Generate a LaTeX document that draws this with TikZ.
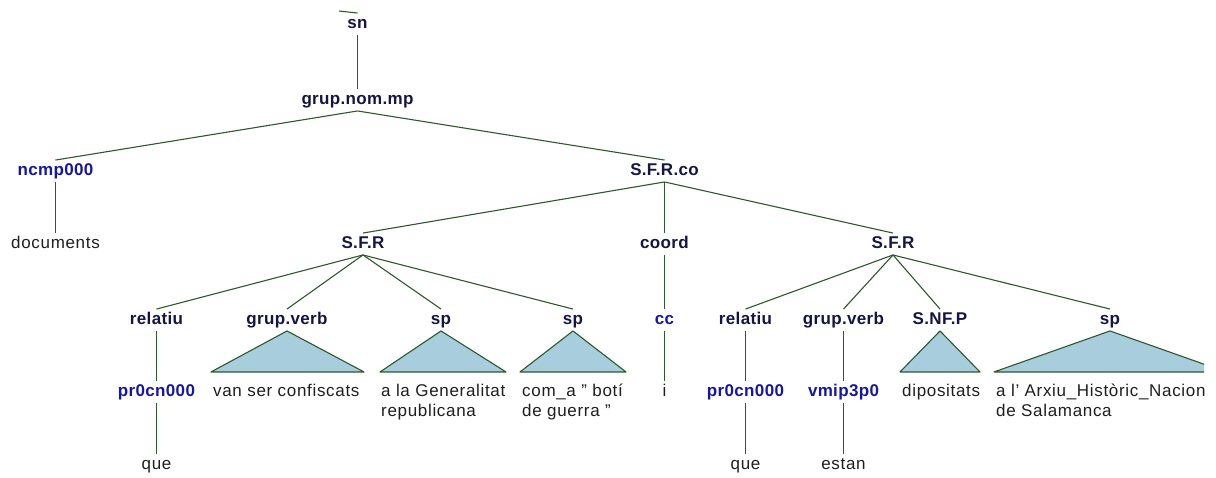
\documentclass[tikz,border=0pt]{standalone}
\usepackage{fontspec}
\setmainfont{Liberation Sans}[LetterSpace=4]
\newfontfamily\labfont{Liberation Sans}[LetterSpace=2]
\definecolor{catcol}{RGB}{20,20,70}
\definecolor{poscol}{RGB}{22,22,160}
\definecolor{wordcol}{RGB}{30,30,30}
\definecolor{linecol}{RGB}{45,88,45}
\definecolor{trifill}{RGB}{168,205,220}
\begin{document}
\begin{tikzpicture}[x=1pt,y=-1pt,
  lab/.style={inner xsep=1pt, inner ysep=3pt, text height=12pt, text depth=3.5pt},
  cat/.style={lab, font=\fontsize{17}{20}\labfont\bfseries, text=catcol},
  postag/.style={lab, font=\fontsize{17}{20}\labfont\bfseries, text=poscol},
  word/.style={lab, font=\fontsize{17}{20}\selectfont, text=wordcol},
  leaf/.style={anchor=north west, inner sep=0pt, align=left, font=\fontsize{17}{20}\selectfont, text=wordcol},
  conn/.style={draw=linecol, line width=1.1pt},
  tri/.style={draw=linecol, fill=trifill, line width=1.1pt, line join=round}]
\useasboundingbox (0,0) rectangle (1216,477);
\clip (0,0) rectangle (1204,477);
% level nodes
\node[cat] (sn) at (357.5,24) {sn};
\node[cat] (gnm) at (357.5,100) {grup.nom.mp};
\node[postag] (ncmp) at (55.5,171) {ncmp000};
\node[cat] (sfrco) at (664.5,171) {S.F.R.co};
\node[word] (doc) at (55.5,244) {documents};
\node[cat] (sfr1) at (363,244) {S.F.R};
\node[cat] (coord) at (664.5,244) {coord};
\node[cat] (sfr2) at (893,244) {S.F.R};
\node[cat] (rel1) at (156.5,320) {relatiu};
\node[cat] (gv1) at (287,320) {grup.verb};
\node[cat] (sp1) at (441,320) {sp};
\node[cat] (sp2) at (573,320) {sp};
\node[postag] (cc) at (664.5,320) {cc};
\node[cat] (rel2) at (745.5,320) {relatiu};
\node[cat] (gv2) at (843.5,320) {grup.verb};
\node[cat] (snfp) at (940,320) {S.NF.P};
\node[cat] (sp3) at (1110,320) {sp};
\node[postag] (pr1) at (156.5,392) {pr0cn000};
\node[word] (iw) at (664.5,392) {i};
\node[postag] (pr2) at (745.5,392) {pr0cn000};
\node[postag] (vm) at (843.5,392) {vmip3p0};
\node[word] (que1) at (156.5,465) {que};
\node[word] (que2) at (745.5,465) {que};
\node[word] (estan) at (843.5,465) {estan};
% leaves under triangles
\node[leaf] (t1) at (213,384) {van ser confiscats};
\node[leaf] (t2) at (381,384) {a la Generalitat\\republicana};
\node[leaf] (t3) at (522,384) {com\_a " botí\\de guerra "};
\node[leaf] (t4) at (902,384) {dipositats};
\node[leaf] (t5) at (996,384) {a l’ Arxiu\_Històric\_Nacional\\de Salamanca};
% connectors
\coordinate (stub) at (339,11);
\draw[conn] (stub) -- (sn.north);
\draw[conn] (sn.south) -- (gnm.north);
\draw[conn] (gnm.south) -- (ncmp.north);
\draw[conn] (gnm.south) -- (sfrco.north);
\draw[conn] (ncmp.south) -- (doc.north);
\draw[conn] (sfrco.south) -- (sfr1.north);
\draw[conn] (sfrco.south) -- (coord.north);
\draw[conn] (sfrco.south) -- (sfr2.north);
\draw[conn] (sfr1.south) -- (rel1.north);
\draw[conn] (sfr1.south) -- (gv1.north);
\draw[conn] (sfr1.south) -- (sp1.north);
\draw[conn] (sfr1.south) -- (sp2.north);
\draw[conn] (coord.south) -- (cc.north);
\draw[conn] (sfr2.south) -- (rel2.north);
\draw[conn] (sfr2.south) -- (gv2.north);
\draw[conn] (sfr2.south) -- (snfp.north);
\draw[conn] (sfr2.south) -- (sp3.north);
\draw[conn] (rel1.south) -- (pr1.north);
\draw[conn] (pr1.south) -- (que1.north);
\draw[conn] (cc.south) -- (iw.north);
\draw[conn] (rel2.south) -- (pr2.north);
\draw[conn] (pr2.south) -- (que2.north);
\draw[conn] (gv2.south) -- (vm.north);
\draw[conn] (vm.south) -- (estan.north);
% triangles
\draw[tri] (gv1.south) -- ++(-76,41) -- ++(153,0) -- cycle;
\draw[tri] (sp1.south) -- ++(-61,41) -- ++(126,0) -- cycle;
\draw[tri] (sp2.south) -- ++(-53,41) -- ++(106,0) -- cycle;
\draw[tri] (snfp.south) -- ++(-40,41) -- ++(80,0) -- cycle;
\draw[tri] (sp3.south) -- ++(-116,41) -- ++(232,0) -- cycle;
\end{tikzpicture}
\end{document}
